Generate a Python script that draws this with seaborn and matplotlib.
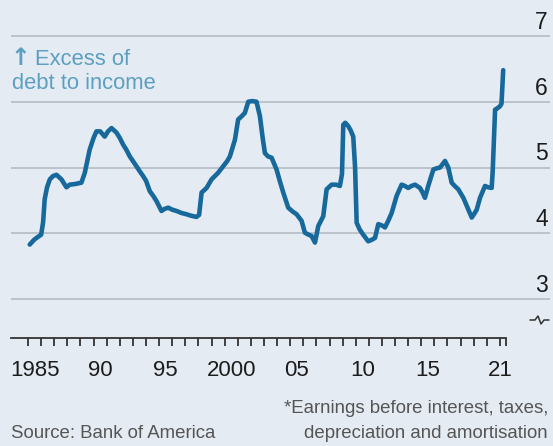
import matplotlib
matplotlib.use("Agg")
import matplotlib.pyplot as plt
from matplotlib.lines import Line2D
import seaborn as sns
import pandas as pd

# Ratio of corporate debt to EBITDA*, US non-financial firms
years = [
    1985.13, 1985.45, 1985.64, 1986.00, 1986.15, 1986.27, 1986.45, 1986.66, 1986.90,
    1987.17, 1987.55, 1987.93, 1988.18, 1988.60, 1989.07, 1989.33, 1989.70, 1990.00,
    1990.22, 1990.50, 1990.85, 1991.10, 1991.37, 1991.75, 1992.00, 1992.25, 1992.50,
    1992.76, 1993.00, 1993.27, 1993.50, 1993.78, 1994.00, 1994.29, 1994.55, 1994.80,
    1995.18, 1995.40, 1995.69, 1996.00, 1996.33, 1996.70, 1997.09, 1997.40, 1997.85,
    1998.05, 1998.24, 1998.62, 1999.00, 1999.50, 1999.89, 2000.20, 2000.40, 2000.78,
    2001.03, 2001.30, 2001.54, 2001.80, 2002.10, 2002.43, 2002.69, 2002.90, 2003.07,
    2003.30, 2003.58, 2003.96, 2004.20, 2004.47, 2004.85, 2005.20, 2005.49, 2005.87,
    2006.12, 2006.40, 2006.63, 2006.89, 2007.14, 2007.52, 2007.78, 2008.16, 2008.50,
    2008.79, 2008.95, 2009.05, 2009.20, 2009.43, 2009.60, 2009.81, 2009.95, 2010.07,
    2010.30, 2010.57, 2010.95, 2011.20, 2011.47, 2011.72, 2012.00, 2012.23, 2012.50,
    2012.74, 2013.12, 2013.50, 2013.75, 2014.00, 2014.25, 2014.52, 2014.90, 2015.10,
    2015.28, 2015.53, 2015.92, 2016.20, 2016.43, 2016.81, 2017.06, 2017.32, 2017.55,
    2017.82, 2018.21, 2018.59, 2018.85, 2019.05, 2019.23, 2019.48, 2019.86, 2020.10,
    2020.37, 2020.45, 2020.50, 2020.63, 2020.80, 2021.00, 2021.12, 2021.25,
]
debt_to_ebitda = [
    3.83, 3.90, 3.93, 3.98, 4.17, 4.52, 4.70, 4.82, 4.87,
    4.89, 4.82, 4.70, 4.74, 4.75, 4.77, 4.92, 5.27, 5.45,
    5.55, 5.55, 5.47, 5.55, 5.60, 5.53, 5.45, 5.35, 5.27,
    5.17, 5.10, 5.02, 4.95, 4.87, 4.80, 4.64, 4.57, 4.49,
    4.34, 4.37, 4.39, 4.36, 4.34, 4.31, 4.29, 4.27, 4.25,
    4.28, 4.62, 4.69, 4.82, 4.92, 5.02, 5.10, 5.17, 5.42,
    5.73, 5.78, 5.83, 6.00, 6.01, 6.00, 5.78, 5.45, 5.22,
    5.17, 5.15, 4.97, 4.80, 4.62, 4.39, 4.33, 4.29, 4.19,
    4.01, 3.98, 3.96, 3.86, 4.11, 4.26, 4.67, 4.74, 4.74,
    4.72, 4.90, 5.65, 5.68, 5.63, 5.57, 5.47, 5.00, 4.16,
    4.06, 3.98, 3.88, 3.90, 3.93, 4.14, 4.12, 4.09, 4.20,
    4.31, 4.57, 4.74, 4.72, 4.69, 4.72, 4.74, 4.69, 4.62,
    4.54, 4.72, 4.97, 4.99, 5.00, 5.10, 5.00, 4.77, 4.72,
    4.67, 4.54, 4.36, 4.24, 4.30, 4.36, 4.54, 4.72, 4.70,
    4.69, 4.95, 5.20, 5.88, 5.90, 5.93, 5.97, 6.48,
]

y_ticks = [3, 4, 5, 6, 7]
year_boundaries = list(range(1985, 2022))
x_label_pos = [1985.5, 1990.5, 1995.5, 2000.5, 2005.5, 2010.5, 2015.5, 2021.05]
x_label_text = ["1985", "90", "95", "2000", "05", "10", "15", "21"]

BG = "#e4ebf2"
LINE = "#17699c"
GRID = "#b4bbc2"
NOTE = "#5c9fc1"
INK = "#1c1c1c"
GREY = "#555555"

sns.set_style("white")
plt.rcParams["font.family"] = ["Liberation Sans", "DejaVu Sans"]
REG = ["Liberation Sans", "DejaVu Sans"]

fig = plt.figure(figsize=(5.53, 4.46), dpi=100, facecolor=BG)
W, H = 553, 446
ax = fig.add_axes([11 / W, (H - 338) / H, (550 - 11) / W, (338 - 10) / H])
ax.set_facecolor(BG)

ax.set_xlim(1983.70, 2024.82)
ax.set_ylim(2.41, 7 + 26 / 66)

# horizontal gridlines
for v in y_ticks:
    ax.axhline(v, color=GRID, lw=1.2, zorder=1)

df = pd.DataFrame({"year": years, "ratio": debt_to_ebitda})
sns.lineplot(data=df, x="year", y="ratio", ax=ax, color=LINE, lw=3.3,
             zorder=3, sort=False)
ax.set_xlabel("")
ax.set_ylabel("")

# spines
for s in ["left", "right", "top"]:
    ax.spines[s].set_visible(False)
ax.spines["bottom"].set_bounds(1983.70, 2021.45)
ax.spines["bottom"].set_color("#333333")
ax.spines["bottom"].set_linewidth(1.3)

# x ticks: marks at year boundaries, labels centred in the year
ax.set_xticks(x_label_pos)
ax.set_xticklabels(x_label_text, fontsize=16, color=INK, family=REG)
ax.set_xticks(year_boundaries + [2021.45], minor=True)
ax.tick_params(axis="x", which="major", bottom=True, length=0, pad=15.5)
ax.tick_params(axis="x", which="minor", bottom=True, length=6, width=1.3,
               color="#333333", direction="out")
ax.set_yticks([])

# y labels sit above the gridlines at the right
for v in y_ticks:
    ax.annotate(str(v), xy=(0.996, v), xycoords=("axes fraction", "data"),
                xytext=(0, 1.5), textcoords="offset points", ha="right",
                va="bottom", fontsize=16.5, color=INK, family=REG)

# axis break mark
bx = [530, 535, 538, 541, 544, 549]
by = [320, 320, 316, 324, 320, 320]
ax.add_line(Line2D([(x - 11) / 539 for x in bx], [(338 - y) / 328 for y in by],
                   transform=ax.transAxes, color="#333333", lw=1.1,
                   clip_on=False))

# annotation
fig.text(10 / W, 1 - 65 / H, "\u2191", color=NOTE, fontsize=17,
         family=["DejaVu Sans"], fontweight="bold", va="baseline", ha="left")
fig.text(35 / W, 1 - 65 / H, "Excess of", color=NOTE, fontsize=15.8,
         family=REG, va="baseline", ha="left")
fig.text(12 / W, 1 - 89 / H, "debt to income", color=NOTE, fontsize=15.8,
         family=REG, va="baseline", ha="left")

# source and footnote
fig.text(11 / W, 1 - 437.5 / H, "Source: Bank of America", color=GREY,
         fontsize=13.4, family=REG, va="baseline", ha="left")
fig.text(548 / W, 1 - 413 / H, "*Earnings before interest, taxes,",
         color=GREY, fontsize=13.4, family=REG, va="baseline", ha="right")
fig.text(548 / W, 1 - 437.5 / H, "depreciation and amortisation",
         color=GREY, fontsize=13.4, family=REG, va="baseline", ha="right")

fig.savefig("out.png", dpi=100, facecolor=BG)
